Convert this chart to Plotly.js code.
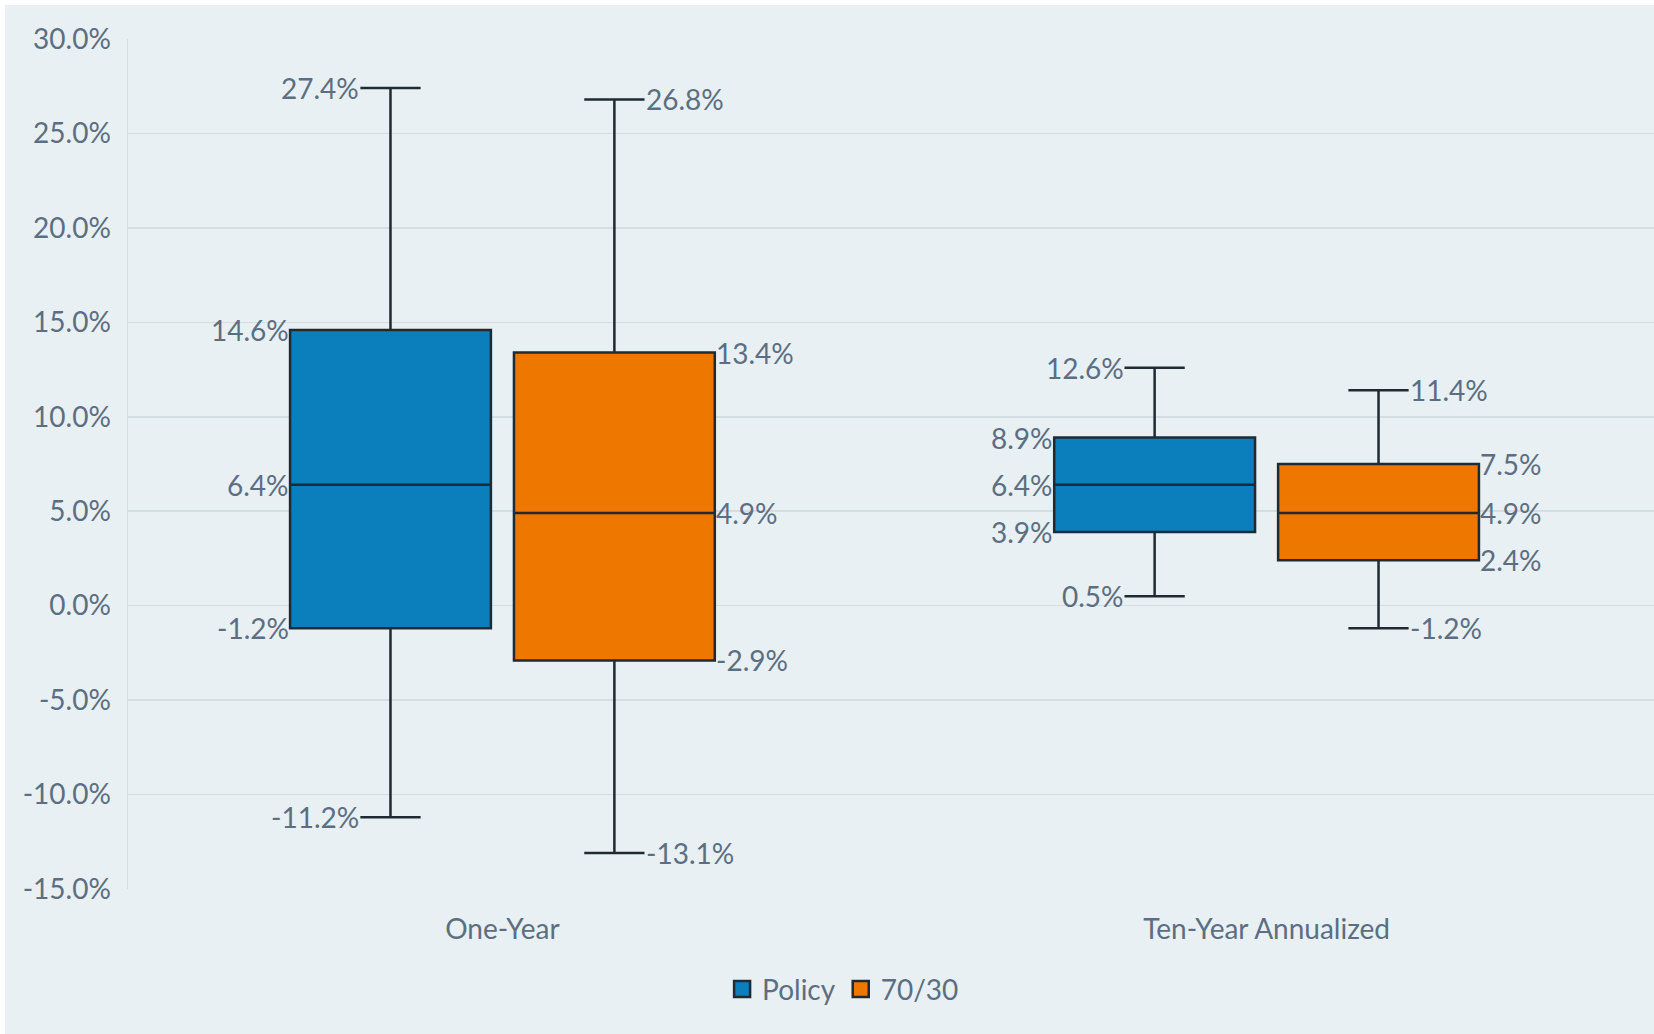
<!DOCTYPE html>
<html>
<head>
<meta charset="utf-8">
<script src="https://cdn.plot.ly/plotly-3.0.1.min.js"></script>
<style>
  html, body { margin: 0; padding: 0; background: #ffffff; overflow: hidden; }
  #chart { position: absolute; left: 5px; top: 5px; width: 1649px; height: 1029px; }
</style>
</head>
<body>
<div id="chart"></div>
<script>
// ---- data ----
const categories = ['One-Year', 'Ten-Year Annualized'];
const seriesNames = ['Policy', '70/30'];

const policyUpper  = [27.4, 12.6];
const policyQ3     = [14.6, 8.9];
const policyMedian = [6.4, 6.4];
const policyQ1     = [-1.2, 3.9];
const policyLower  = [-11.2, 0.5];

const mixUpper  = [26.8, 11.4];
const mixQ3     = [13.4, 7.5];
const mixMedian = [4.9, 4.9];
const mixQ1     = [-2.9, 2.4];
const mixLower  = [-13.1, -1.2];

const yTickVals = [-15, -10, -5, 0, 5, 10, 15, 20, 25, 30];
const yTickText = yTickVals.map(v => v.toFixed(1) + '%');

// ---- style ----
const FONT = 'Lato, "Open Sans", sans-serif';
const TEXT = '#5b6e82';
const BG = '#e8f0f3';
const GRID = '#d4dde2';
const LINE = '#1f2a33';
const COLORS = ['#0b7fbc', '#ee7700'];
const BOXGAP = 0.414, BOXGROUPGAP = 0.103, WHISKER = 0.3;

const seriesStats = [
  {upper: policyUpper, q3: policyQ3, median: policyMedian, q1: policyQ1, lower: policyLower},
  {upper: mixUpper, q3: mixQ3, median: mixMedian, q1: mixQ1, lower: mixLower}
];

const traces = seriesStats.map((s, k) => ({
  type: 'box',
  name: seriesNames[k],
  legendgroup: seriesNames[k],
  showlegend: false,
  x: categories,
  q1: s.q1, median: s.median, q3: s.q3,
  lowerfence: s.lower, upperfence: s.upper,
  fillcolor: COLORS[k],
  line: {color: LINE, width: 2.5},
  whiskerwidth: WHISKER,
  boxpoints: false,
  hoverinfo: 'skip'
}));

// legend entries with larger square swatches
seriesNames.forEach((n, k) => {
  traces.push({
    type: 'scatter', mode: 'markers', name: n, legendgroup: n,
    x: [null], y: [null],
    marker: {symbol: 'square', size: 17, color: COLORS[k], line: {color: LINE, width: 2.5}},
    hoverinfo: 'skip'
  });
});

// label positions derived from Plotly's grouped-box geometry (category spacing = 1)
const off = 0.25 * (1 - BOXGAP);
const halfW = off * (1 - BOXGROUPGAP);
const capHalf = halfW * WHISKER;

const annotations = [];
seriesStats.forEach((s, k) => {
  const side = k === 0 ? -1 : 1;
  categories.forEach((c, i) => {
    const center = i + side * off;
    [['upper', capHalf], ['q3', halfW], ['median', halfW], ['q1', halfW], ['lower', capHalf]].forEach(([key, w]) => {
      const v = s[key][i];
      annotations.push({
        x: center + side * w, y: v, xref: 'x', yref: 'y',
        text: v.toFixed(1) + '%',
        showarrow: false,
        xanchor: side < 0 ? 'right' : 'left',
        yanchor: 'middle',
        borderpad: 0,
        font: {family: FONT, size: 28, color: TEXT}
      });
    });
  });
});

const layout = {
  paper_bgcolor: BG,
  plot_bgcolor: BG,
  margin: {l: 123, r: 0, t: 34, b: 145},
  boxmode: 'group',
  boxgap: BOXGAP,
  boxgroupgap: BOXGROUPGAP,
  font: {family: FONT, size: 28, color: TEXT},
  showlegend: true,
  legend: {
    orientation: 'h', x: 0.4686, xanchor: 'center', y: -0.118, yanchor: 'middle',
    font: {family: FONT, size: 28, color: TEXT},
    bgcolor: 'rgba(0,0,0,0)',
    itemwidth: 30
  },
  xaxis: {
    type: 'category',
    range: [-0.49, 1.507],
    showgrid: false, zeroline: false, showline: false,
    ticks: '', ticklabelstandoff: 21,
    tickfont: {family: FONT, size: 28, color: TEXT}
  },
  yaxis: {
    range: [-15, 30],
    tickvals: yTickVals, ticktext: yTickText,
    showgrid: true, gridcolor: GRID, gridwidth: 1.5,
    zeroline: false,
    showline: true, linecolor: GRID, linewidth: 1.5,
    ticks: '', ticklabelstandoff: 10,
    tickfont: {family: FONT, size: 28, color: TEXT}
  },
  annotations: annotations
};

Plotly.newPlot('chart', traces, layout, {displayModeBar: false, staticPlot: true});
</script>
</body>
</html>
